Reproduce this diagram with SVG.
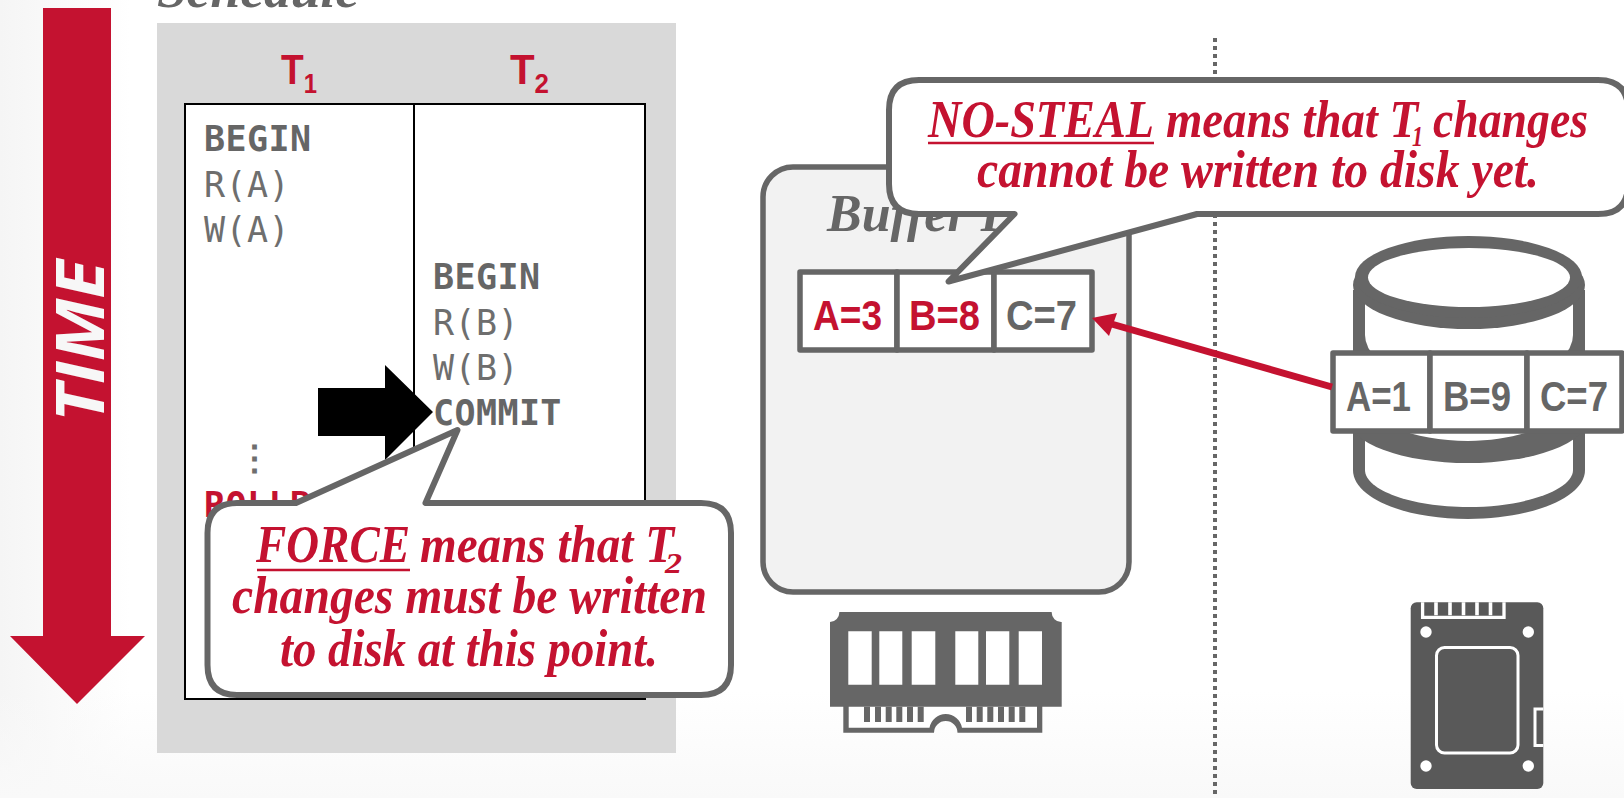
<svg xmlns="http://www.w3.org/2000/svg" width="1624" height="798" viewBox="0 0 1624 798">
<defs>
<linearGradient id="bgL" x1="0" x2="1" y1="0" y2="0"><stop offset="0" stop-color="#f5f5f5"/><stop offset="1" stop-color="#f5f5f5" stop-opacity="0"/></linearGradient>
<linearGradient id="bgB" x1="0" x2="0" y1="0" y2="1"><stop offset="0" stop-color="#f9f9f9" stop-opacity="0"/><stop offset="1" stop-color="#f9f9f9"/></linearGradient>
</defs>
<style>
.code{font-family:"DejaVu Sans Mono","Liberation Mono",monospace;font-size:35px;fill:#6e6e6e;letter-spacing:.4px}
.code.b{font-weight:700;fill:#666}
.code.red{fill:#c41230}
.red{fill:#c41230}
.call{font-family:"Liberation Serif",serif;font-style:italic;font-weight:700;font-size:52px;fill:#c41230}
.ttl{font-family:"Liberation Serif",serif;font-style:italic;font-weight:700;font-size:52px;fill:#666}
.hd{font-family:"Liberation Sans",sans-serif;font-weight:700;font-size:42px;fill:#c41230}
.sub{font-family:"Liberation Sans",sans-serif;font-weight:700;font-size:27px;fill:#c41230}
.cell{fill:#fff;stroke:#666;stroke-width:5.5;stroke-linejoin:round}
.val{font-family:"Liberation Sans",sans-serif;font-weight:700;font-size:42px;fill:#666}
.val.red{fill:#c41230}
.bub{fill:#fff;stroke:#666;stroke-width:6;stroke-linejoin:round}
.ul{stroke:#c41230;stroke-width:2.5;fill:none}
.g{fill:#666}
.w{fill:#fff}
</style>
<rect id="background" width="1624" height="798" fill="#fff"/>
<rect x="0" y="0" width="130" height="798" fill="url(#bgL)"/>
<rect x="0" y="690" width="1624" height="108" fill="url(#bgB)"/>

<g id="time-arrow">
<polygon class="red" points="43,8 111,8 111,636 145,636 77,704 10,636 43,636"/>
<text transform="translate(104,422) rotate(-90)" font-family="'Open Sans','Liberation Sans',sans-serif" font-style="italic" font-weight="700" font-size="66" fill="#f7f7f7" textLength="162" lengthAdjust="spacingAndGlyphs">TIME</text>
</g>

<g id="schedule">
<text class="ttl" x="157" y="7" textLength="202" lengthAdjust="spacingAndGlyphs">Schedule</text>
<rect x="157" y="23" width="519" height="730" fill="#d9d9d9"/>
<text class="hd" x="281" y="84" textLength="36" lengthAdjust="spacingAndGlyphs">T<tspan class="sub" dy="9">1</tspan></text>
<text class="hd" x="510" y="84" textLength="39" lengthAdjust="spacingAndGlyphs">T<tspan class="sub" dy="9">2</tspan></text>
<rect x="185" y="104" width="460" height="595" fill="#fff" stroke="#000" stroke-width="2"/>
<line x1="414" y1="104" x2="414" y2="699" stroke="#000" stroke-width="2"/>
<text class="code b" x="204" y="151">BEGIN</text>
<text class="code" x="204" y="197">R(A)</text>
<text class="code" x="204" y="242">W(A)</text>
<text class="code b" x="433" y="289">BEGIN</text>
<text class="code" x="433" y="335">R(B)</text>
<text class="code" x="433" y="380">W(B)</text>
<text class="code b" x="433" y="425">COMMIT</text>
<text class="code b" x="237" y="470" style="fill:#6e6e6e">⋮</text>
<text class="code b red" x="204" y="517">ROLLBACK</text>
</g>

<g id="now-arrow"><polygon points="318,388 385,388 385,365 433,412 385,460 385,436 318,436" fill="#000"/></g>

<g id="force-callout">
<path class="bub" d="M237,503H296L457.500,430L425.500,503H701Q731,503 731,533V665Q731,695 701,695H237Q207.500,695 207.500,665V533Q207.500,503 237,503Z"/>
<text class="call" x="256" y="562"><tspan textLength="154" lengthAdjust="spacingAndGlyphs">FORCE</tspan><tspan x="420" textLength="254" lengthAdjust="spacingAndGlyphs">means that T</tspan><tspan x="665" y="573" font-size="30" textLength="17" lengthAdjust="spacingAndGlyphs">2</tspan></text>
<line class="ul" x1="257" y1="570" x2="410" y2="570"/>
<text class="call" x="232" y="613" textLength="475" lengthAdjust="spacingAndGlyphs">changes must be written</text>
<text class="call" x="280" y="666" textLength="378" lengthAdjust="spacingAndGlyphs">to disk at this point.</text>
</g>

<g id="divider"><line x1="1215" y1="38" x2="1215" y2="794" stroke="#666" stroke-width="4" stroke-dasharray="4 4"/></g>

<g id="buffer-pool">
<rect x="763" y="167" width="366" height="425" rx="30" ry="30" fill="#f2f2f2" stroke="#666" stroke-width="5.500"/>
<text class="ttl" x="827" y="231">Buffer Pool</text>
<rect class="cell" x="800" y="272" width="97" height="78"/>
<rect class="cell" x="897" y="272" width="97" height="78"/>
<rect class="cell" x="994" y="272" width="98" height="78"/>
<text class="val red" x="813" y="330" textLength="69" lengthAdjust="spacingAndGlyphs">A=3</text>
<text class="val red" x="909" y="330" textLength="71" lengthAdjust="spacingAndGlyphs">B=8</text>
<text class="val" x="1006" y="330" textLength="71" lengthAdjust="spacingAndGlyphs">C=7</text>
</g>

<g id="ram-icon">
<path class="g" d="M839.300,612H1051.700A9.500,9.500 0 0 0 1061.700,622V706.700H1042.300V732.700H957.500A11.700,11.700 0 0 0 934,732.700H843.300V706.700H830V622A9.500,9.500 0 0 0 839.300,612Z"/>
<path class="w" d="M848.300,631.300h23.400v53.400h-23.400zM879.300,631.300h23v53.400h-23zM911.700,631.300h23.600v53.400h-23.600zM955.300,631.300h23v53.400h-23zM986,631.300h23.300v53.400h-23.300zM1018.700,631.300h23.300v53.400h-23.300z"/>
<path class="w" d="M848.700,706.700H1037V727.700H962A16.500,16.500 0 0 0 929.500,727.700H848.700Z"/>
<path class="g" d="M864,706.700h6v15.300h-6zM875,706.700h6v15.300h-6zM885.700,706.700h6v15.300h-6zM896.300,706.700h6v15.300h-6zM907,706.700h6v15.300h-6zM917.700,706.700h6v15.300h-6zM966,706.700h6v15.300h-6zM976.700,706.700h6v15.300h-6zM987.300,706.700h6v15.300h-6zM998,706.700h6v15.300h-6zM1008.700,706.700h6v15.300h-6zM1019.300,706.700h6v15.300h-6z"/>
</g>

<g id="disk">
<path class="g" d="M1353,290V470C1353,498 1405,519 1468,519C1531,519 1585,498 1585,470V290Z"/>
<path class="w" d="M1365,295H1573V335Q1573,348 1560,360H1378Q1365,348 1365,335Z"/>
<path class="w" d="M1365,425H1573V470C1573,490 1525,507 1468,507C1411,507 1365,490 1365,470Z"/>
<ellipse class="g" cx="1468" cy="418" rx="120" ry="45"/>
<path class="w" d="M1395,428H1540C1520,436 1495,441 1468,441C1441,441 1415,436 1395,428Z"/>
<ellipse class="g" cx="1469" cy="285" rx="116" ry="44"/>
<ellipse class="g" cx="1468.500" cy="277" rx="113.500" ry="41"/>
<ellipse class="w" cx="1469" cy="277.500" rx="101" ry="29.500"/>
<rect class="cell" x="1333" y="353" width="97" height="78"/>
<rect class="cell" x="1430" y="353" width="97" height="78"/>
<rect class="cell" x="1527" y="353" width="95" height="78"/>
<text class="val" x="1346" y="411" textLength="65" lengthAdjust="spacingAndGlyphs">A=1</text>
<text class="val" x="1443" y="411" textLength="68" lengthAdjust="spacingAndGlyphs">B=9</text>
<text class="val" x="1540" y="411" textLength="68" lengthAdjust="spacingAndGlyphs">C=7</text>
</g>

<g id="ssd-icon">
<rect x="1410.700" y="602.300" width="132.600" height="186.700" rx="6" fill="#595959"/>
<path d="M1422.600,602.300V617.300H1504V602.300" fill="none" stroke="#fff" stroke-width="3.300"/>
<path d="M1436,602.300v13M1450,602.300v13M1463.500,602.300v13M1477,602.300v13M1490.500,602.300v13" stroke="#fff" stroke-width="3.600" fill="none"/>
<circle class="w" cx="1426" cy="632" r="5.700"/>
<circle class="w" cx="1528.300" cy="632" r="5.700"/>
<circle class="w" cx="1426" cy="766" r="5.700"/>
<circle class="w" cx="1528.300" cy="766" r="5.700"/>
<rect x="1436.500" y="647.500" width="81.500" height="105.500" rx="8" fill="none" stroke="#fff" stroke-width="3"/>
<path d="M1543.300,709H1535V745.500H1543.300" fill="none" stroke="#fff" stroke-width="3"/>
</g>

<g id="connectors">
<line x1="1332" y1="387" x2="1108" y2="323" stroke="#c41230" stroke-width="7"/>
<polygon class="red" points="1092,318 1117,313 1109,336"/>
</g>

<g id="no-steal-callout">
<path class="bub" d="M919,80H1598Q1628,80 1628,110V184Q1628,214 1598,214H1197L948.500,281.500L1014.500,214H919Q889,214 889,184V110Q889,80 919,80Z"/>
<text class="call" x="928" y="137"><tspan textLength="226" lengthAdjust="spacingAndGlyphs">NO-STEAL</tspan><tspan x="1166" textLength="252" lengthAdjust="spacingAndGlyphs">means that T</tspan><tspan x="1412" y="146" font-size="30" textLength="11" lengthAdjust="spacingAndGlyphs">1</tspan><tspan x="1433" y="137" textLength="155" lengthAdjust="spacingAndGlyphs">changes</tspan></text>
<line class="ul" x1="928" y1="143" x2="1154" y2="143"/>
<text class="call" x="977" y="187" textLength="562" lengthAdjust="spacingAndGlyphs">cannot be written to disk yet.</text>
</g>
</svg>
